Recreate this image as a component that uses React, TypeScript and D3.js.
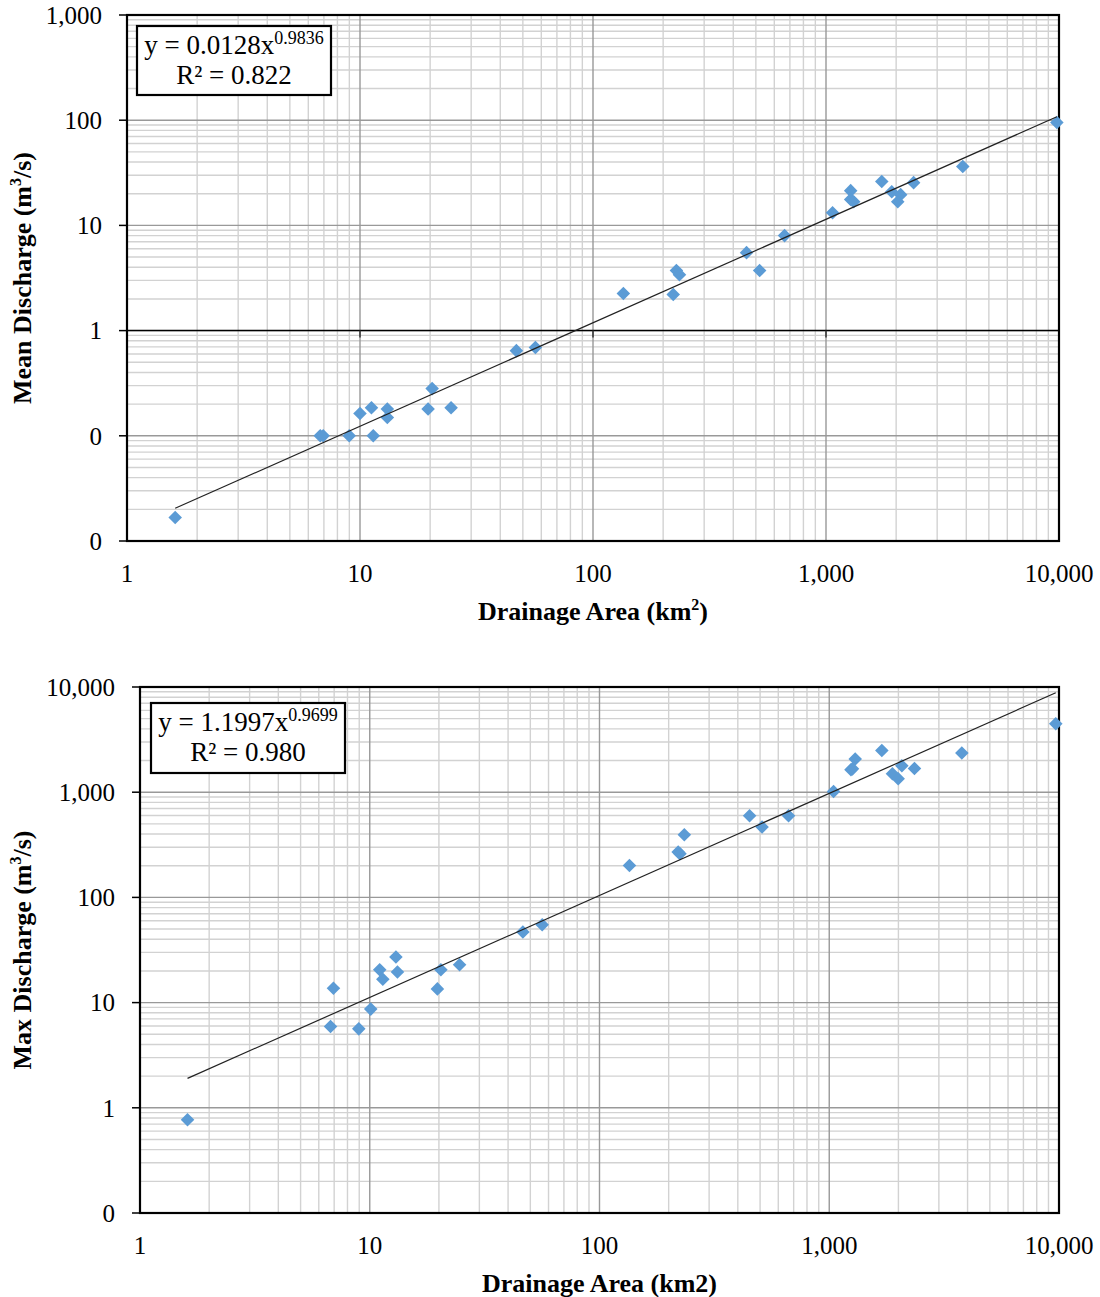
import React from "react";
import * as d3 from "d3";

// ---- Data ----
const xTicks = [1, 10, 100, 1000, 10000];
const meanYTicks = [0.01, 0.1, 1, 10, 100, 1000];
const maxYTicks = [0.1, 1, 10, 100, 1000, 10000];

const meanArea = [1.61, 6.75, 6.95, 8.99, 11.4, 10.0, 11.2, 13.1, 13.1, 19.6, 20.4, 24.6, 46.9, 56.6, 135, 221, 228, 235, 456, 519, 664, 1067, 1276, 1276, 1315, 1735, 1915, 2091, 2032, 2377, 3864, 9791];
const meanDischarge = [0.0167, 0.1, 0.1, 0.1, 0.1, 0.163, 0.185, 0.18, 0.149, 0.18, 0.281, 0.185, 0.645, 0.69, 2.25, 2.2, 3.72, 3.4, 5.51, 3.72, 8.0, 13.2, 21.4, 17.6, 16.8, 26.1, 20.9, 19.6, 16.8, 25.5, 36.3, 94.9];

const maxArea = [1.61, 6.95, 6.75, 8.96, 10.1, 11.05, 11.4, 13.0, 13.2, 19.7, 20.4, 24.6, 46.4, 56.3, 135, 220, 224, 234, 450, 510, 665, 1044, 1243, 1262, 1297, 1694, 1884, 1995, 2070, 2349, 3776, 9680];
const maxDischarge = [0.77, 13.7, 5.93, 5.63, 8.67, 20.5, 16.7, 27.1, 19.5, 13.5, 20.5, 22.9, 46.8, 54.9, 201, 270, 260, 394, 597, 466, 597, 1016, 1633, 1667, 2065, 2490, 1496, 1341, 1783, 1680, 2354, 4470];

const meanFit = { a: 0.0128, b: 0.9836, aText: "0.0128", bText: "0.9836", r2Text: "0.822" };
const maxFit = { a: 1.1997, b: 0.9699, aText: "1.1997", bText: "0.9699", r2Text: "0.980" };

const FONT = "'Liberation Serif', 'Times New Roman', serif";
const MARKER = "#5B9BD5";

type Box = { left: number; right: number; top: number; bottom: number };

function minorValues(domain: [number, number]) {
  const out: number[] = [];
  for (let d = domain[0]; d < domain[1]; d *= 10) {
    for (let k = 2; k <= 9; k++) out.push(d * k);
  }
  return out;
}

function LogChart(props: {
  box: Box;
  yDomain: [number, number];
  yTicks: number[];
  xs: number[];
  ys: number[];
  fit: { a: number; b: number; aText: string; bText: string; r2Text: string };
  yTitle: string;
  xTitleSup: boolean;
  legend: { x: number; y: number; w: number; h: number };
  axisAtOne: boolean;
}) {
  const { box, yDomain, yTicks, xs, ys, fit, legend } = props;
  const xDomain: [number, number] = [1, 10000];
  const x = d3.scaleLog().domain(xDomain).range([box.left, box.right]);
  const y = d3.scaleLog().domain(yDomain).range([box.bottom, box.top]);
  const minorX = minorValues(xDomain);
  const minorY = minorValues(yDomain);
  const fmt = d3.format(",");
  const label = (v: number) => (v >= 1 ? fmt(v) : "0");

  const xMin = d3.min(xs) as number;
  const xMax = d3.max(xs) as number;
  const fitPts: [number, number][] = [xMin, xMax].map((v) => [v, fit.a * Math.pow(v, fit.b)]);
  const line = d3
    .line<[number, number]>()
    .x((d) => x(d[0]))
    .y((d) => y(d[1]));

  const diamond = d3.symbol().type(d3.symbolSquare).size(92)();
  const axisY = props.axisAtOne ? y(1) : box.bottom;
  const midX = (box.left + box.right) / 2;
  const midY = (box.top + box.bottom) / 2;

  return (
    <g>
      {/* minor grid */}
      {minorX.map((v, i) => (
        <line key={"mx" + i} x1={x(v)} x2={x(v)} y1={box.top} y2={box.bottom} stroke="#d2d2d2" strokeWidth={1.4} />
      ))}
      {minorY.map((v, i) => (
        <line key={"my" + i} x1={box.left} x2={box.right} y1={y(v)} y2={y(v)} stroke="#d2d2d2" strokeWidth={1.4} />
      ))}
      {/* major grid */}
      {xTicks.map((v, i) => (
        <line key={"Mx" + i} x1={x(v)} x2={x(v)} y1={box.top} y2={box.bottom} stroke="#999" strokeWidth={1.4} />
      ))}
      {yTicks.map((v, i) => (
        <line key={"My" + i} x1={box.left} x2={box.right} y1={y(v)} y2={y(v)} stroke="#999" strokeWidth={1.4} />
      ))}
      {/* x axis line and ticks */}
      <line x1={box.left} x2={box.right} y1={axisY} y2={axisY} stroke="#000" strokeWidth={1.5} />
      {props.axisAtOne &&
        xTicks.map((v, i) => (
          <line key={"xt" + i} x1={x(v)} x2={x(v)} y1={axisY} y2={axisY + 7} stroke="#333" strokeWidth={1.5} />
        ))}
      {/* y ticks */}
      {yTicks.map((v, i) => (
        <line key={"yt" + i} x1={box.left - 8} x2={box.left} y1={y(v)} y2={y(v)} stroke="#000" strokeWidth={1.5} />
      ))}
      {/* plot border */}
      <rect x={box.left} y={box.top} width={box.right - box.left} height={box.bottom - box.top} fill="none" stroke="#000" strokeWidth={2.2} />
      {/* points */}
      {xs.map((v, i) => (
        <path key={"p" + i} d={diamond as string} transform={`translate(${x(v)},${y(ys[i])}) rotate(45)`} fill={MARKER} />
      ))}
      {/* trendline */}
      <path d={line(fitPts) as string} fill="none" stroke="#222" strokeWidth={1.2} />
      {/* y tick labels */}
      {yTicks.map((v, i) => (
        <text key={"yl" + i} x={box.left - 25} y={y(v)} dy="0.35em" textAnchor="end" fontFamily={FONT} fontSize={25} fill="#000">
          {label(v)}
        </text>
      ))}
      {/* x tick labels */}
      {xTicks.map((v, i) => (
        <text key={"xl" + i} x={x(v)} y={box.bottom + 32} dy="0.35em" textAnchor="middle" fontFamily={FONT} fontSize={25} fill="#000">
          {label(v)}
        </text>
      ))}
      {/* x title */}
      <text x={midX} y={box.bottom + 70} dy="0.35em" textAnchor="middle" fontFamily={FONT} fontSize={26} fontWeight="bold" fill="#000">
        {props.xTitleSup ? (
          <>
            Drainage Area (km<tspan dy={-10} fontSize={16}>2</tspan>
            <tspan dy={10}>)</tspan>
          </>
        ) : (
          "Drainage Area (km2)"
        )}
      </text>
      {/* y title */}
      <text transform={`translate(22,${midY}) rotate(-90)`} dy="0.35em" textAnchor="middle" fontFamily={FONT} fontSize={26} fontWeight="bold" fill="#000">
        {props.yTitle} (m<tspan dy={-10} fontSize={16}>3</tspan>
        <tspan dy={10}>/s)</tspan>
      </text>
      {/* legend */}
      <rect x={legend.x} y={legend.y} width={legend.w} height={legend.h} fill="#fff" stroke="#000" strokeWidth={2.2} />
      <text x={legend.x + legend.w / 2} y={legend.y + 28} textAnchor="middle" fontFamily={FONT} fontSize={27} fill="#000">
        y = {fit.aText}x<tspan dy={-10} fontSize={18}>{fit.bText}</tspan>
      </text>
      <text x={legend.x + legend.w / 2} y={legend.y + 58} textAnchor="middle" fontFamily={FONT} fontSize={27} fill="#000">
        R² = {fit.r2Text}
      </text>
    </g>
  );
}

export default function App() {
  return (
    <svg width={1100} height={1297} style={{ position: "absolute", left: 0, top: 0, background: "#fff" }}>
      <rect width={1100} height={1297} fill="#fff" />
      <LogChart
        box={{ left: 127, right: 1059, top: 15, bottom: 541 }}
        yDomain={[0.01, 1000]}
        yTicks={meanYTicks}
        xs={meanArea}
        ys={meanDischarge}
        fit={meanFit}
        yTitle="Mean Discharge"
        xTitleSup={true}
        legend={{ x: 137, y: 26, w: 194, h: 69 }}
        axisAtOne={true}
      />
      <LogChart
        box={{ left: 140, right: 1059, top: 687, bottom: 1213 }}
        yDomain={[0.1, 10000]}
        yTicks={maxYTicks}
        xs={maxArea}
        ys={maxDischarge}
        fit={maxFit}
        yTitle="Max Discharge"
        xTitleSup={false}
        legend={{ x: 151, y: 703, w: 194, h: 70 }}
        axisAtOne={false}
      />
    </svg>
  );
}
